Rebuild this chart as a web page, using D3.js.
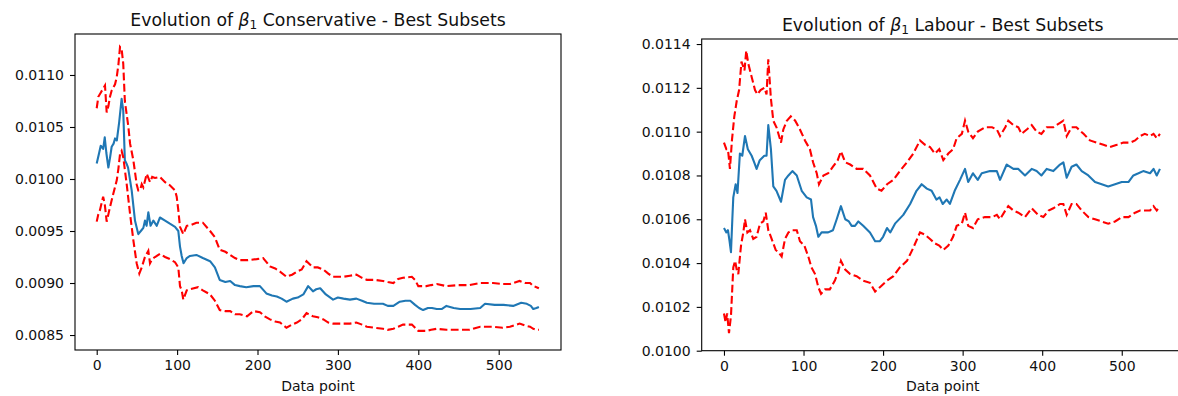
<!DOCTYPE html>
<html>
<head>
<meta charset="utf-8">
<script src="https://cdn.jsdelivr.net/npm/d3@7"></script>
<style>
  html, body { margin: 0; padding: 0; background: #ffffff; }
  svg { display: block; font-family: "DejaVu Sans", sans-serif; }
  .tick text { fill: #111; }
</style>
</head>
<body>
<svg id="chart" width="1178" height="396"></svg>
<script>
// Rolling estimate of beta_1 with its upper and lower bounds, as [data point, value].
const conservativeMean = [[0,0.01015],[3,0.01025],[5,0.01032],[8,0.01029],[10,0.01040],[12,0.01025],[14.5,0.01011],[16.5,0.01020],[18.6,0.01031],[21,0.01034],[22.8,0.01039],[25,0.01037],[28,0.01055],[31,0.01077],[33,0.01066],[35,0.01018],[37,0.01015],[39,0.01011],[43.5,0.00989],[47.6,0.00960],[51.7,0.00947],[55.9,0.00951],[58,0.00953],[60,0.00960],[62,0.00955],[64.2,0.00968],[67,0.00955],[70.5,0.00960],[74.6,0.00955],[78.7,0.00963],[85,0.00960],[91,0.00957],[97.4,0.00954],[101.5,0.00950],[103.6,0.00935],[105.7,0.00926],[108,0.00919],[112,0.00924],[116,0.00926],[124,0.00927],[132,0.00924],[141,0.00921],[147,0.00915],[153,0.00903],[160,0.00901],[166,0.00902],[172,0.00898],[178,0.00897],[186,0.00896],[195,0.00897],[203,0.00897],[211,0.00890],[218,0.00888],[224,0.00887],[230,0.00885],[236,0.00882],[244,0.00885],[250,0.00886],[257,0.00889],[263,0.00897],[269,0.00892],[273,0.00894],[278,0.00895],[285,0.00889],[294,0.00884],[300,0.00886],[307,0.00885],[315,0.00884],[323,0.00885],[330,0.00883],[336,0.00881],[345,0.00880],[356,0.00880],[362,0.00878],[369,0.00878],[377,0.00882],[384,0.00883],[390,0.00883],[396,0.00879],[401,0.00876],[406,0.00874],[412,0.00876],[417,0.00876],[423,0.00875],[429,0.00875],[435,0.00878],[444,0.00876],[452,0.00875],[465,0.00875],[477,0.00876],[483,0.00880],[495,0.00879],[506,0.00879],[518,0.00878],[528,0.00881],[535,0.00880],[540,0.00878],[543,0.00875],[547,0.00876],[550,0.00877]];

const conservativeUpper = [[0,0.01068],[2,0.01079],[5,0.01083],[8,0.01087],[10.3,0.01090],[12.4,0.01064],[14.5,0.01070],[16.5,0.01079],[18.6,0.01085],[22.8,0.01091],[24.9,0.01098],[27,0.01110],[29,0.01127],[31,0.01125],[33,0.01111],[35,0.01075],[39.4,0.01050],[41.5,0.01034],[45.6,0.01018],[49.7,0.00995],[51.7,0.00989],[53.9,0.00989],[56,0.00995],[58,0.00992],[62.2,0.01005],[66.3,0.00997],[69,0.01002],[72.5,0.01001],[78.7,0.01002],[85,0.00997],[91,0.00994],[97.4,0.00989],[99.5,0.00983],[101.5,0.00970],[103.6,0.00954],[107.7,0.00947],[112,0.00955],[118,0.00956],[124,0.00958],[132,0.00958],[141,0.00950],[147,0.00944],[153,0.00932],[160,0.00930],[166,0.00927],[172,0.00924],[178,0.00922],[188,0.00922],[199,0.00923],[207,0.00924],[215.5,0.00916],[222,0.00914],[228,0.00911],[236,0.00906],[243,0.00908],[249,0.00911],[255,0.00913],[261,0.00921],[269,0.00915],[275,0.00915],[282,0.00913],[288,0.00909],[294,0.00906],[307,0.00906],[315,0.00907],[323,0.00908],[330,0.00905],[336,0.00903],[346,0.00903],[356,0.00902],[362,0.00901],[369,0.00900],[375,0.00904],[381,0.00905],[392,0.00906],[396,0.00903],[400,0.00897],[410,0.00897],[416,0.00898],[423,0.00899],[435,0.00897],[450,0.00898],[464,0.00898],[477,0.00900],[493,0.00900],[505,0.00899],[514,0.00899],[526,0.00902],[533,0.00900],[539,0.00900],[543,0.00897],[547,0.00896],[550,0.00895]];

const conservativeLower = [[0,0.00959],[2,0.00966],[4,0.00970],[8,0.00983],[10,0.00976],[12.4,0.00959],[14.5,0.00966],[16.5,0.00973],[20.7,0.00986],[25,0.00999],[27,0.01010],[29,0.01024],[31,0.01027],[33,0.01021],[37.3,0.00995],[41.4,0.00967],[45.6,0.00941],[49.7,0.00919],[53,0.00909],[56,0.00915],[60,0.00925],[64.2,0.00931],[66.3,0.00919],[69,0.00923],[72.5,0.00925],[78.7,0.00928],[85,0.00925],[91,0.00923],[97.4,0.00920],[101.5,0.00915],[103.6,0.00897],[105.7,0.00893],[107.7,0.00884],[112,0.00893],[116,0.00894],[126,0.00896],[132,0.00893],[141,0.00889],[147,0.00883],[153,0.00874],[160,0.00873],[166,0.00873],[172,0.00870],[178,0.00870],[187,0.00868],[195,0.00873],[203,0.00872],[209,0.00868],[215.5,0.00865],[222,0.00863],[228,0.00862],[236,0.00857],[243,0.00860],[249,0.00862],[255,0.00865],[261,0.00871],[269,0.00868],[275,0.00867],[282,0.00865],[288,0.00862],[294,0.00861],[307,0.00861],[315,0.00861],[323,0.00862],[330,0.00860],[336,0.00858],[346,0.00857],[356,0.00856],[362,0.00855],[369,0.00856],[375,0.00858],[381,0.00860],[392,0.00860],[396,0.00857],[400,0.00854],[410,0.00854],[416,0.00855],[423,0.00856],[435,0.00855],[450,0.00855],[464,0.00855],[477,0.00858],[493,0.00858],[505,0.00857],[514,0.00858],[526,0.00861],[533,0.00859],[539,0.00858],[543,0.00856],[547,0.00855],[550,0.00855]];

const labourMean = [[0,0.01056],[3,0.01054],[5,0.01055],[7,0.01050],[8.8,0.01045],[10.5,0.01060],[11.7,0.01070],[14.7,0.01076],[17,0.01072],[20,0.01090],[23,0.01089],[26.4,0.01098],[30,0.01092],[34.8,0.01089],[38,0.01086],[41,0.01083],[45,0.01087],[50.7,0.01089],[53.5,0.01089],[55.7,0.01103],[59,0.01092],[62,0.01075],[66,0.01073],[71.7,0.01068],[76.7,0.01078],[81,0.01080],[86,0.01082],[91.5,0.01080],[97.7,0.01073],[104,0.01070],[109.4,0.01069],[112,0.01061],[115.6,0.01057],[118.6,0.01052],[122.7,0.01054],[131,0.01054],[137,0.01055],[141.7,0.01060],[147,0.01066],[152.4,0.01060],[157,0.01059],[160.5,0.01057],[164.7,0.01057],[168.9,0.01059],[175,0.01057],[183.5,0.01054],[190,0.01050],[196,0.01050],[200,0.01052],[205,0.01056],[209,0.01054],[215,0.01058],[225.4,0.01062],[234,0.01067],[242,0.01073],[248.5,0.01076],[255,0.01074],[261,0.01073],[267,0.01069],[271,0.01070],[275,0.01067],[280,0.01069],[284,0.01067],[290,0.01073],[296.7,0.01078],[303,0.01083],[307,0.01077],[313,0.01081],[319,0.01078],[324,0.01081],[334.4,0.01082],[343,0.01082],[347,0.01078],[355.4,0.01085],[363.8,0.01083],[370,0.01083],[378.4,0.01080],[386.8,0.01083],[393,0.01082],[399,0.01080],[405.7,0.01083],[414,0.01082],[422.4,0.01085],[426.6,0.01086],[430.8,0.01079],[437,0.01084],[443,0.01085],[449.7,0.01082],[458,0.01080],[466.4,0.01077],[474.8,0.01076],[483,0.01075],[491.6,0.01076],[500,0.01077],[508.4,0.01077],[514.6,0.01080],[521,0.01081],[527,0.01082],[535.6,0.01081],[540,0.01083],[544,0.01080],[548,0.01083]];

const labourUpper = [[0,0.01095],[3,0.01092],[5,0.01092],[7.5,0.01083],[10,0.01096],[13,0.01107],[16,0.01114],[19,0.01119],[22,0.01132],[25.8,0.01128],[28,0.01137],[30.6,0.01131],[34.8,0.01125],[39,0.01119],[42,0.01117],[46,0.01119],[50.7,0.01120],[53.5,0.01117],[55.7,0.01133],[59,0.01115],[62,0.01105],[66,0.01102],[71.7,0.01095],[74.6,0.01101],[79,0.01105],[84,0.01107],[89.5,0.01105],[95.5,0.01101],[101.8,0.01096],[108,0.01092],[112,0.01086],[116.6,0.01081],[119.4,0.01076],[125,0.01080],[131,0.01081],[137,0.01084],[143,0.01087],[147,0.01091],[152.4,0.01086],[158.6,0.01085],[166.7,0.01083],[175,0.01083],[183.5,0.01080],[192,0.01074],[198,0.01073],[205,0.01076],[213,0.01078],[221,0.01082],[230,0.01086],[238,0.01090],[246.4,0.01096],[252.7,0.01094],[259,0.01093],[265,0.01090],[270.6,0.01092],[275.7,0.01087],[282,0.01090],[288,0.01092],[292.5,0.01097],[299,0.01099],[303,0.01105],[307,0.01100],[313,0.01097],[319,0.01100],[328,0.01102],[337,0.01102],[343,0.01101],[347,0.01098],[353.6,0.01102],[357.4,0.01105],[363.8,0.01103],[370,0.01102],[374,0.01099],[380.6,0.01101],[386.8,0.01103],[393,0.01100],[399,0.01099],[405.7,0.01102],[414,0.01102],[422.4,0.01104],[426.6,0.01105],[430.8,0.01098],[437,0.01102],[443,0.01102],[452,0.01099],[460,0.01096],[468.7,0.01095],[477,0.01094],[485,0.01093],[494,0.01094],[502,0.01095],[510.6,0.01095],[516.8,0.01096],[523,0.01098],[529,0.01099],[535.6,0.01098],[540,0.01099],[544,0.01097],[548,0.01099]];

const labourLower = [[0,0.01017],[2,0.01013],[4,0.01017],[6.3,0.01008],[8.8,0.01016],[11.7,0.01038],[14,0.01041],[16,0.01037],[18,0.01035],[21.4,0.01048],[24.3,0.01054],[26.4,0.01060],[29.4,0.01054],[32.7,0.01055],[36.8,0.01051],[41,0.01052],[45.3,0.01058],[49.5,0.01059],[52.5,0.01063],[55.7,0.01055],[59,0.01052],[62,0.01049],[65,0.01046],[68.3,0.01045],[72.5,0.01043],[76.7,0.01051],[81,0.01054],[86,0.01055],[91.5,0.01055],[95.5,0.01050],[101,0.01048],[106,0.01043],[110,0.01038],[114.5,0.01035],[118.6,0.01029],[122,0.01026],[127,0.01028],[133,0.01028],[139.4,0.01032],[143.6,0.01036],[147,0.01041],[152.4,0.01037],[158.6,0.01035],[166.7,0.01034],[175,0.01032],[183.5,0.01031],[190,0.01027],[196,0.01029],[205,0.01032],[213,0.01034],[221,0.01038],[230,0.01041],[238,0.01047],[246.4,0.01054],[252.7,0.01053],[259,0.01051],[265,0.01049],[270.6,0.01048],[275.7,0.01046],[282,0.01048],[288,0.01052],[292.5,0.01057],[299,0.01058],[303,0.01063],[307,0.01057],[313,0.01056],[319,0.01060],[328,0.01061],[337,0.01061],[343,0.01062],[347,0.01060],[353.6,0.01064],[357.4,0.01066],[363.8,0.01064],[370,0.01063],[378.4,0.01061],[386.8,0.01065],[395,0.01062],[401.5,0.01061],[408,0.01064],[414,0.01065],[422.4,0.01067],[426.6,0.01067],[430.8,0.01062],[437,0.01067],[443,0.01067],[449.7,0.01064],[458,0.01061],[466.4,0.01060],[474.8,0.01059],[483,0.01058],[491.6,0.01059],[500,0.01061],[508.4,0.01061],[516.8,0.01063],[523,0.01064],[529,0.01064],[535.6,0.01064],[540,0.01066],[544,0.01064],[548,0.01066]];

const xTicks = [0, 100, 200, 300, 400, 500];
const conservativeYTicks = [0.0085, 0.0090, 0.0095, 0.0100, 0.0105, 0.0110];
const labourYTicks = [0.0100, 0.0102, 0.0104, 0.0106, 0.0108, 0.0110, 0.0112, 0.0114];
const panelNames = ["Conservative", "Labour"];
const xLabel = "Data point";

const svg = d3.select("#chart");

function drawPanel(opts) {
  const { left, top, right, bottom, xDomain, yDomain, yTicks, name, mean, upper, lower } = opts;
  const x = d3.scaleLinear().domain(xDomain).range([left, right]);
  const y = d3.scaleLinear().domain(yDomain).range([bottom, top]);

  const g = svg.append("g");
  const clipId = "clip-" + name;
  g.append("clipPath").attr("id", clipId)
    .append("rect").attr("x", left).attr("y", top)
    .attr("width", right - left).attr("height", bottom - top);

  const line = d3.line().x(d => x(d[0])).y(d => y(d[1]));
  const plot = g.append("g").attr("clip-path", `url(#${clipId})`);

  plot.append("path").datum(mean)
    .attr("d", line).attr("fill", "none")
    .attr("stroke", "#1f77b4").attr("stroke-width", 2.1)
    .attr("stroke-linejoin", "round");

  [upper, lower].forEach(series => {
    plot.append("path").datum(series)
      .attr("d", line).attr("fill", "none")
      .attr("stroke", "#ff0000").attr("stroke-width", 2.1)
      .attr("stroke-dasharray", "7.8,3.4");
  });

  // Frame (spines)
  g.append("rect")
    .attr("x", left).attr("y", top)
    .attr("width", right - left).attr("height", bottom - top)
    .attr("fill", "none").attr("stroke", "#000").attr("stroke-width", 1.1);

  const xAxis = d3.axisBottom(x).tickValues(xTicks).tickFormat(d3.format("d"))
    .tickSize(5).tickPadding(5).tickSizeOuter(0);
  const yAxis = d3.axisLeft(y).tickValues(yTicks).tickFormat(d3.format(".4f"))
    .tickSize(5).tickPadding(6).tickSizeOuter(0);

  const gx = g.append("g").attr("transform", `translate(0,${bottom})`).call(xAxis);
  const gy = g.append("g").attr("transform", `translate(${left},0)`).call(yAxis);
  [gx, gy].forEach(a => {
    a.select(".domain").remove();
    a.selectAll(".tick line").attr("stroke", "#000").attr("stroke-width", 1.1);
    a.selectAll(".tick text").attr("font-size", 14).attr("font-family", "DejaVu Sans");
  });

  const cx = (left + right) / 2;
  const title = g.append("text")
    .attr("x", cx).attr("y", top - 8)
    .attr("text-anchor", "middle")
    .attr("font-size", 17.3).attr("fill", "#111");
  title.append("tspan").text("Evolution of ");
  title.append("tspan").attr("font-style", "italic").text("β");
  title.append("tspan").attr("font-size", 12.1).attr("dy", 3).text("1");
  title.append("tspan").attr("dy", -3).text(" " + name + " - Best Subsets");

  g.append("text")
    .attr("x", cx).attr("y", 391)
    .attr("text-anchor", "middle")
    .attr("font-size", 14).attr("fill", "#111")
    .text(xLabel);
}

drawPanel({
  left: 75, top: 34, right: 561, bottom: 350,
  xDomain: [-27, 577.5], yDomain: [0.008356, 0.011394],
  yTicks: conservativeYTicks, name: panelNames[0],
  mean: conservativeMean, upper: conservativeUpper, lower: conservativeLower
});

drawPanel({
  left: 701.7, top: 39, right: 1183.8, bottom: 350.7,
  xDomain: [-28, 578], yDomain: [0.0100, 0.011423],
  yTicks: labourYTicks, name: panelNames[1],
  mean: labourMean, upper: labourUpper, lower: labourLower
});
</script>
</body>
</html>
